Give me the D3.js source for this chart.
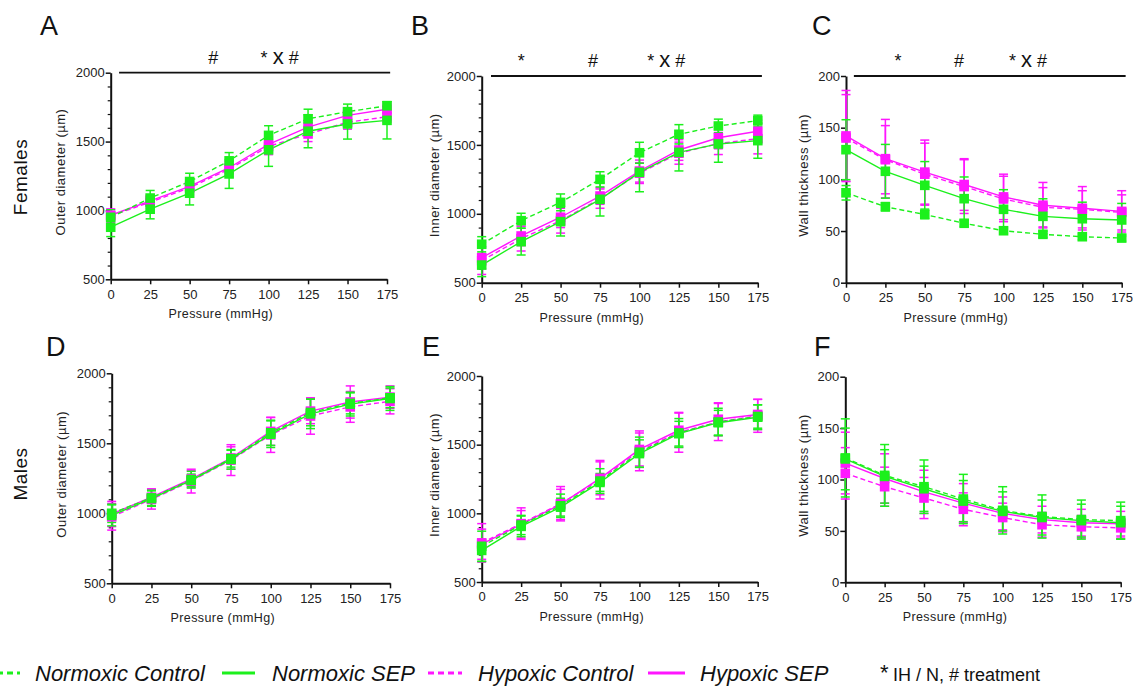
<!DOCTYPE html>
<html><head><meta charset="utf-8">
<script src="https://cdn.jsdelivr.net/npm/d3@7"></script>
<style>
body{margin:0;background:#fff;}
svg{display:block;font-family:"Liberation Sans",Arial,sans-serif;}
</style></head><body>
<svg id="chart" width="1133" height="686"></svg>
<script>
// ---------- DATA ----------
const pressure = [0, 25, 50, 75, 100, 125, 150, 175];
const seriesNames = ["Normoxic Control", "Normoxic SEP", "Hypoxic Control", "Hypoxic SEP"];
const panelLetters = ["A", "B", "C", "D", "E", "F"];
const rowLabels = ["Females", "Males"];
const yTitles = ["Outer diameter (µm)", "Inner diameter (µm)", "Wall thickness (µm)"];
const xTitle = "Pressure (mmHg)";
const diamTicks = [500, 1000, 1500, 2000];
const diamMinor = [600, 700, 800, 900, 1100, 1200, 1300, 1400, 1600, 1700, 1800, 1900];
const wallTicks = [0, 50, 100, 150, 200];

// A: Females, outer diameter
const A_NC = [950, 1090, 1210, 1360, 1545, 1665, 1717, 1760];
const A_NC_sd = [55, 55, 60, 60, 70, 70, 55, 30];
const A_NS = [878, 1009, 1125, 1265, 1440, 1575, 1628, 1654];
const A_NS_sd = [68, 70, 85, 105, 120, 120, 110, 135];
const A_HC = [960, 1060, 1165, 1300, 1465, 1555, 1640, 1680];
const A_HC_sd = [50, 45, 50, 55, 60, 55, 50, 40];
const A_HS = [965, 1070, 1175, 1310, 1480, 1605, 1690, 1735];
const A_HS_sd = [45, 40, 45, 50, 55, 50, 45, 40];
// B: Females, inner diameter
const B_NC = [779, 950, 1083, 1250, 1443, 1577, 1637, 1676];
const B_NC_sd = [55, 54, 61, 55, 76, 70, 50, 40];
const B_NS = [628, 798, 943, 1105, 1301, 1446, 1507, 1531];
const B_NS_sd = [84, 97, 104, 121, 141, 135, 133, 128];
const B_HC = [660, 820, 950, 1110, 1295, 1440, 1510, 1545];
const B_HC_sd = [100, 90, 90, 70, 75, 80, 80, 110];
const B_HS = [681, 839, 975, 1129, 1310, 1463, 1552, 1599];
const B_HS_sd = [80, 70, 75, 60, 80, 75, 80, 80];
// C: Females, wall thickness
const C_NC = [87, 73.5, 66, 57.5, 50.3, 46.8, 44.5, 43.2];
const C_NC_sd = [7, 4, 4, 3, 3, 3, 3, 3];
const C_NS = [128.7, 107.8, 94.2, 81.3, 71, 64.2, 61.9, 60.7];
const C_NS_sd = [29, 26, 23, 21, 19, 17, 16, 16];
const C_HC = [140, 119, 105, 93, 81, 73, 71, 68];
const C_HC_sd = [42, 33, 30, 26, 22, 19, 18, 17];
const C_HS = [142, 120, 107, 95, 83, 75, 72, 69];
const C_HS_sd = [44, 38, 31, 25, 22, 22, 21, 20];
// D: Males, outer diameter
const D_NC = [1000, 1110, 1240, 1390, 1575, 1720, 1785, 1825];
const D_NC_sd = [65, 55, 60, 60, 90, 95, 75, 70];
const D_NS = [985, 1105, 1235, 1385, 1565, 1710, 1780, 1820];
const D_NS_sd = [75, 55, 45, 70, 95, 105, 85, 85];
const D_HC = [975, 1100, 1230, 1380, 1560, 1695, 1760, 1800];
const D_HC_sd = [95, 70, 85, 110, 125, 130, 110, 90];
const D_HS = [995, 1115, 1245, 1395, 1585, 1730, 1795, 1830];
const D_HS_sd = [90, 60, 60, 80, 100, 90, 115, 80];
// E: Males, inner diameter
const E_NC = [760, 915, 1055, 1235, 1445, 1585, 1665, 1705];
const E_NC_sd = [110, 70, 85, 90, 110, 105, 100, 85];
const E_NS = [730, 905, 1045, 1225, 1435, 1580, 1660, 1700];
const E_NS_sd = [80, 75, 65, 65, 100, 90, 90, 90];
const E_HC = [785, 925, 1070, 1245, 1455, 1590, 1665, 1710];
const E_HC_sd = [140, 115, 125, 140, 145, 145, 135, 120];
const E_HS = [775, 920, 1065, 1255, 1465, 1605, 1685, 1720];
const E_HS_sd = [110, 100, 110, 120, 120, 125, 120, 110];
// F: Males, wall thickness
const F_NC = [121, 104, 93, 81, 70, 64, 61, 60];
const F_NC_sd = [38, 30, 26, 24, 23, 21, 19, 18];
const F_NS = [120, 103, 91, 79, 69, 63, 60, 58];
const F_NS_sd = [30, 26, 22, 20, 19, 17, 16, 16];
const F_HC = [106, 93, 82, 71, 63, 56, 54, 53];
const F_HC_sd = [25, 19, 20, 16, 14, 12, 11, 10];
const F_HS = [116, 101, 88, 77, 67, 61, 58, 57];
const F_HS_sd = [30, 24, 21, 19, 16, 13, 13, 12];

// significance annotations (labels) for female panels
const sigA = ["#", "* x #"];
const sigB = ["*", "#", "* x #"];
const sigC = ["*", "#", "* x #"];
const legendNote = ["*", "IH / N, # treatment"];

// ---------- STYLE / LAYOUT ----------
const GREEN = "#1cf01c", MAGENTA = "#ff16ff";
const seriesStyle = [
  {color: GREEN, dash: "5,3"},
  {color: GREEN, dash: null},
  {color: MAGENTA, dash: "5,3"},
  {color: MAGENTA, dash: null}
];
const panels = [
  {vals:[A_NC,A_NS,A_HC,A_HS], sds:[A_NC_sd,A_NS_sd,A_HC_sd,A_HS_sd], x0:110.7, x1:387, yTop:72.7, yBot:279.3, dom:[500,2000], ticks:diamTicks, minor:diamMinor, yt:0, ytx:-50, sig:sigA, sigPos:[65,107], bar:[5.3,177]},
  {vals:[B_NC,B_NS,B_HC,B_HS], sds:[B_NC_sd,B_NS_sd,B_HC_sd,B_HS_sd], x0:481.7, x1:757.8, yTop:76, yBot:282.7, dom:[500,2000], ticks:diamTicks, minor:diamMinor, yt:1, ytx:-47, sig:sigB, sigPos:[25,70.5,117], bar:[5.9,177.6]},
  {vals:[C_NC,C_NS,C_HC,C_HS], sds:[C_NC_sd,C_NS_sd,C_HC_sd,C_HS_sd], x0:846, x1:1121.7, yTop:76, yBot:282.7, dom:[0,200], ticks:wallTicks, minor:[], yt:2, ytx:-43, sig:sigC, sigPos:[33,71.7,115.5], bar:[5,177.5]},
  {vals:[D_NC,D_NS,D_HC,D_HS], sds:[D_NC_sd,D_NS_sd,D_HC_sd,D_HS_sd], x0:111.7, x1:390, yTop:373.3, yBot:583.3, dom:[500,2000], ticks:diamTicks, minor:diamMinor, yt:0, ytx:-50},
  {vals:[E_NC,E_NS,E_HC,E_HS], sds:[E_NC_sd,E_NS_sd,E_HC_sd,E_HS_sd], x0:481.7, x1:757.7, yTop:376, yBot:582, dom:[500,2000], ticks:diamTicks, minor:diamMinor, yt:1, ytx:-47},
  {vals:[F_NC,F_NS,F_HC,F_HS], sds:[F_NC_sd,F_NS_sd,F_HC_sd,F_HS_sd], x0:845.3, x1:1120.7, yTop:376.7, yBot:582.3, dom:[0,200], ticks:wallTicks, minor:[], yt:2, ytx:-42}
];
const letterPos = [[40,35],[411,35],[812,35],[46,356],[422,356],[814,356]];

const svg = d3.select("#chart");
const fmt = d3.format("d");

panels.forEach((p, i) => {
  const x = d3.scaleLinear().domain([0,175]).range([p.x0, p.x1]);
  const y = d3.scaleLinear().domain(p.dom).range([p.yBot, p.yTop]);
  const g = svg.append("g");

  // y axis
  const ya = g.append("g").attr("transform", `translate(${p.x0},0)`)
    .call(d3.axisLeft(y).tickValues(p.ticks).tickFormat(fmt).tickSize(5).tickPadding(1).tickSizeOuter(0));
  ya.select(".domain").attr("stroke","#111").attr("stroke-width",2);
  ya.selectAll(".tick line").attr("stroke","#111").attr("stroke-width",1.5);
  ya.selectAll(".tick text").attr("font-size",13).attr("fill","#222").attr("font-family","Liberation Sans, Arial, sans-serif");
  if (p.minor.length) {
    const ym = g.append("g").attr("transform", `translate(${p.x0},0)`)
      .call(d3.axisLeft(y).tickValues(p.minor).tickSize(3).tickFormat(""));
    ym.select(".domain").remove();
    ym.selectAll(".tick line").attr("stroke","#111").attr("stroke-width",1.2);
  }
  // x axis
  const xa = g.append("g").attr("transform", `translate(0,${p.yBot})`)
    .call(d3.axisBottom(x).tickValues(pressure).tickFormat(fmt).tickSize(5).tickPadding(5).tickSizeOuter(0));
  xa.select(".domain").attr("stroke","#111").attr("stroke-width",2);
  xa.selectAll(".tick line").attr("stroke","#111").attr("stroke-width",1.5);
  xa.selectAll(".tick text").attr("font-size",13).attr("fill","#222").attr("font-family","Liberation Sans, Arial, sans-serif");

  // titles
  g.append("text").attr("transform", `translate(${p.x0 + p.ytx},${(p.yTop+p.yBot)/2 - 4}) rotate(-90)`)
    .attr("text-anchor","middle").attr("dy","0.35em").attr("font-size",13).attr("fill","#222")
    .attr("letter-spacing",0.5).text(yTitles[p.yt]);
  g.append("text").attr("x",(p.x0+p.x1)/2 - 28).attr("y",p.yBot + 39)
    .attr("text-anchor","middle").attr("font-size",12.5).attr("fill","#222")
    .attr("letter-spacing",0.4).text(xTitle);

  // panel letter
  svg.append("text").attr("x",letterPos[i][0]).attr("y",letterPos[i][1])
    .attr("font-size",27).attr("fill","#111").text(panelLetters[i]);

  // significance bar
  if (p.sig) {
    g.append("line").attr("x1",x(p.bar[0])).attr("x2",x(p.bar[1]))
      .attr("y1",p.yTop).attr("y2",p.yTop).attr("stroke","#111").attr("stroke-width",1.8);
    p.sig.forEach((s, k) => {
      const t = g.append("text").attr("x",x(p.sigPos[k])).attr("y",p.yTop - 9)
        .attr("text-anchor","middle").attr("fill","#111").attr("font-size",18);
      if (s === "* x #") {
        t.append("tspan").text("* ");
        t.append("tspan").attr("font-size",22).text("x");
        t.append("tspan").text(" #");
      } else t.text(s);
    });
  }

  const order = [2,3,0,1];
  // error bars
  order.forEach(si => {
    const st = seriesStyle[si];
    const eg = g.append("g").attr("stroke",st.color).attr("stroke-width",1.5).attr("fill","none");
    pressure.forEach((pr, k) => {
      const v = p.vals[si][k], e = p.sds[si][k];
      const cx = x(pr);
      eg.append("line").attr("x1",cx).attr("x2",cx).attr("y1",y(v-e)).attr("y2",y(v+e));
      eg.append("line").attr("x1",cx-4.5).attr("x2",cx+4.5).attr("y1",y(v+e)).attr("y2",y(v+e));
      eg.append("line").attr("x1",cx-4.5).attr("x2",cx+4.5).attr("y1",y(v-e)).attr("y2",y(v-e));
    });
  });
  // lines
  order.forEach(si => {
    const st = seriesStyle[si];
    const line = d3.line().x((d,k)=>x(pressure[k])).y(d=>y(d));
    g.append("path").datum(p.vals[si]).attr("d",line).attr("fill","none")
      .attr("stroke",st.color).attr("stroke-width",1.4)
      .attr("stroke-dasharray",st.dash);
  });
  // markers
  order.forEach(si => {
    const st = seriesStyle[si];
    g.append("g").selectAll("rect").data(p.vals[si]).join("rect")
      .attr("x",(d,k)=>x(pressure[k])-4.8).attr("y",d=>y(d)-4.8)
      .attr("width",9.6).attr("height",9.6).attr("fill",st.color);
  });
});

// row labels
svg.append("text").attr("transform","translate(20,177) rotate(-90)").attr("text-anchor","middle")
  .attr("dy","0.35em").attr("font-size",19).attr("fill","#111").attr("letter-spacing",0.5).text(rowLabels[0]);
svg.append("text").attr("transform","translate(20,474) rotate(-90)").attr("text-anchor","middle")
  .attr("dy","0.35em").attr("font-size",19).attr("fill","#111").attr("letter-spacing",0.5).text(rowLabels[1]);

// legend
const legendItems = [
  {si:0, lx:[-3,20], tx:35},
  {si:1, lx:[222,255], tx:272},
  {si:2, lx:[428,462], tx:478},
  {si:3, lx:[648,685], tx:700}
];
legendItems.forEach(it => {
  const st = seriesStyle[it.si];
  svg.append("line").attr("x1",it.lx[0]).attr("x2",it.lx[1]).attr("y1",673).attr("y2",673)
    .attr("stroke",st.color).attr("stroke-width",3).attr("stroke-dasharray", st.dash ? "6,4" : null);
  svg.append("text").attr("x",it.tx).attr("y",681).attr("font-size",22).attr("font-style","italic")
    .attr("fill","#111").text(seriesNames[it.si]);
});
svg.append("text").attr("x",880).attr("y",680).attr("font-size",22).attr("fill","#111").text(legendNote[0]);
svg.append("text").attr("x",893).attr("y",681).attr("font-size",18).attr("fill","#111").text(legendNote[1]);
</script>
</body></html>
